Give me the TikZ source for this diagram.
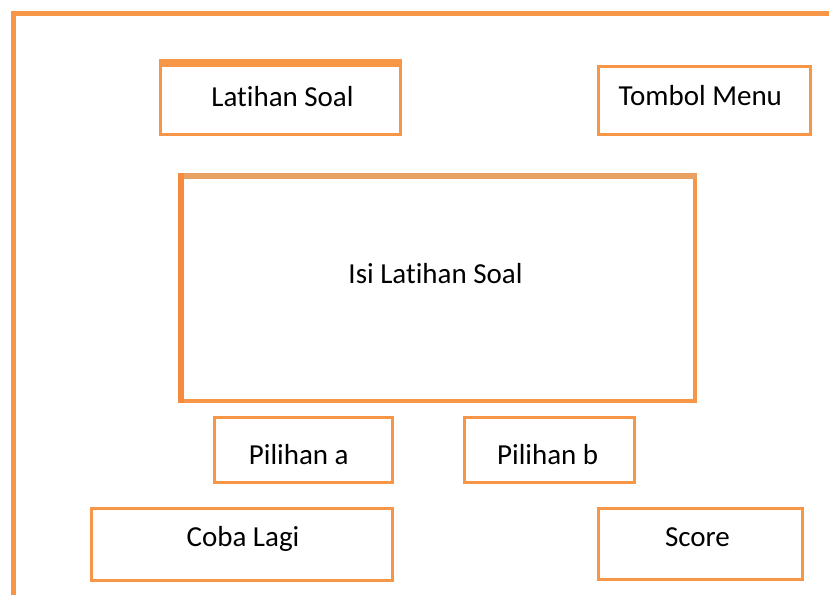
\documentclass[tikz,border=0pt]{standalone}
\usepackage{fontspec}
\setmainfont{Carlito}[Ligatures={NoCommon}]
\usetikzlibrary{calc}
\definecolor{org}{HTML}{F79646}
\definecolor{orgtan}{HTML}{E9A262}
\definecolor{orgbright}{HTML}{F68A3C}
\begin{document}
\begin{tikzpicture}[x=1pt,y=-1pt,
  box/.style={draw=org,line width=3pt,rectangle,inner sep=0pt,outer sep=0pt},
  lbl/.style={inner sep=0pt,anchor=base,font=\fontsize{29}{35}\selectfont,text=black}]
\useasboundingbox (0,0) rectangle (829,595);
% outer frame
\coordinate (fb) at (13,595);
\coordinate (fc) at (13,13.5);
\coordinate (fr) at (829,13.5);
\draw[org,line width=5pt] (fb) -- (fc) -- (fr);
% boxes
\node[box,minimum width=239.4pt,minimum height=73.2pt] (lat) at (280.5,97.6) {};
\fill[org] ($(lat.north west)+(-1.5,-1.7)$) rectangle ($(lat.north east)+(1.5,6.3)$);
\node[box,minimum width=212pt,minimum height=67.7pt] (menu) at (704.8,100.35) {};
\node[box,line width=4pt,minimum width=515pt,minimum height=226.3pt] (isi) at (437.5,288.15) {};
\draw[orgtan,line width=6pt] ($(isi.north west)+(-2,0.5)$) -- ($(isi.north east)+(2,0.5)$);
\draw[orgbright,line width=6pt] ($(isi.north west)+(1,-2.5)$) -- ($(isi.south west)+(1,2)$);
\node[box,minimum width=177.8pt,minimum height=65pt] (pa) at (303.1,450) {};
\node[box,minimum width=169.9pt,minimum height=65.3pt] (pb) at (549.75,450.15) {};
\node[box,minimum width=301pt,minimum height=71.2pt] (coba) at (242,544.4) {};
\node[box,minimum width=204pt,minimum height=70.7pt] (score) at (700.8,544.15) {};
% labels
\node[lbl] (tlat) at (282.5,106) {Latihan Soal};
\node[lbl] (tmenu) at (700.3,105.3) {Tombol Menu};
\node[lbl] (tisi) at (435.5,283.5) {Isi Latihan Soal};
\node[lbl] (tpa) at (298.8,464) {Pilihan a};
\node[lbl] (tpb) at (547.7,464) {Pilihan b};
\node[lbl] (tcoba) at (243,546) {Coba Lagi};
\node[lbl] (tscore) at (697.5,546) {Score};
\end{tikzpicture}
\end{document}
